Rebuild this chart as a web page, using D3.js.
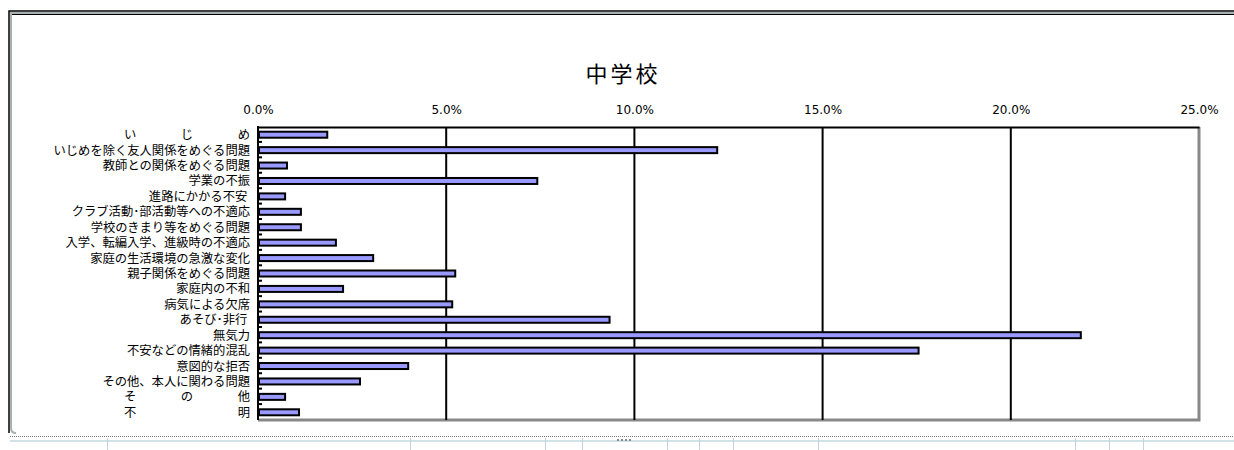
<!DOCTYPE html>
<html>
<head>
<meta charset="utf-8">
<script src="https://cdn.jsdelivr.net/npm/d3@7"></script>
<style>
  body { margin: 0; background: #fff; }
  svg { display: block; }
  text { font-family: "Noto Sans CJK JP", sans-serif; fill: #000; }
</style>
</head>
<body>
<svg class="main" width="1234" height="450"></svg>
<script>
var title = "中学校";

var categories = [
    "いじめ",
    "いじめを除く友人関係をめぐる問題",
    "教師との関係をめぐる問題",
    "学業の不振",
    "進路にかかる不安",
    "クラブ活動･部活動等への不適応",
    "学校のきまり等をめぐる問題",
    "入学、転編入学、進級時の不適応",
    "家庭の生活環境の急激な変化",
    "親子関係をめぐる問題",
    "家庭内の不和",
    "病気による欠席",
    "あそび･非行",
    "無気力",
    "不安などの情緒的混乱",
    "意図的な拒否",
    "その他、本人に関わる問題",
    "その他",
    "不明"
];

// label text as printed (spaced / padded)
var displayLabels = [
    "い　じ　め",
    "いじめを除く友人関係をめぐる問題",
    "教師との関係をめぐる問題",
    "学業の不振",
    "進路にかかる不安 ",
    "クラブ活動･部活動等への不適応",
    "学校のきまり等をめぐる問題",
    "入学、転編入学、進級時の不適応",
    "家庭の生活環境の急激な変化",
    "親子関係をめぐる問題",
    "家庭内の不和",
    "病気による欠席",
    "あそび･非行 ",
    "無気力",
    "不安などの情緒的混乱",
    "意図的な拒否",
    "その他、本人に関わる問題",
    "そ　の　他",
    "不　明"
];
var spreadLabels = [0, 17, 18];

var values = [1.84, 12.2, 0.77, 7.42, 0.72, 1.14, 1.14, 2.07, 3.06, 5.24,
              2.26, 5.16, 9.34, 21.86, 17.55, 3.99, 2.71, 0.72, 1.09];

var tickValues = [0, 5, 10, 15, 20, 25];

var svg = d3.select(".main");

var plotL = 258, plotR = 1199, plotT = 127, plotB = 420;

var x = d3.scaleLinear().domain([0, 25]).range([plotL, plotR]);
var y = d3.scaleBand().domain(categories).range([plotT, plotB]).padding(0);

// ---- sheet decorations (frame of embedded chart + cells below) ----
var deco = svg.append("g");
deco.append("line").attr("x1", 10).attr("x2", 1234).attr("y1", 436.5).attr("y2", 436.5)
    .attr("stroke", "#777").attr("stroke-dasharray", "1,1");
deco.append("line").attr("x1", 10).attr("x2", 1234).attr("y1", 441).attr("y2", 441)
    .attr("stroke", "#cfe3e8").attr("stroke-width", 2);
[107, 410, 545, 582, 667, 699, 733, 818, 1075, 1109, 1143].forEach(function(cx) {
    deco.append("line").attr("x1", cx + 0.5).attr("x2", cx + 0.5).attr("y1", 438).attr("y2", 450)
        .attr("stroke", "#c8d0dc");
});
deco.selectAll(".dot").data([617, 621, 625, 629]).enter().append("rect")
    .attr("x", function(d) { return d; }).attr("y", 439).attr("width", 2).attr("height", 2)
    .attr("fill", "#888");

// chart area outer border
deco.append("path")
    .attr("d", "M1234,11 L9,11 L9,433")
    .attr("fill", "none").attr("stroke", "#000").attr("stroke-width", 1.5);
deco.append("path")
    .attr("d", "M1234,13 L11,13 L11,428 Q11,433 16,433")
    .attr("fill", "none").attr("stroke", "#a9b0b4").attr("stroke-width", 2);
deco.append("line").attr("x1", 12).attr("x2", 1234).attr("y1", 14.5).attr("y2", 14.5)
    .attr("stroke", "#000").attr("stroke-width", 1);

// ---- title ----
svg.append("text")
    .attr("x", 623).attr("y", 82)
    .attr("text-anchor", "middle")
    .style("font-size", "22px")
    .style("letter-spacing", "3px")
    .text(title);

// ---- plot frame (shadowed right/bottom) ----
svg.append("path")
    .attr("d", "M" + plotR + "," + plotT + " L" + plotR + "," + plotB + " L" + plotL + "," + plotB)
    .attr("fill", "none").attr("stroke", "#888").attr("stroke-width", 3);

// gridlines
svg.append("g")
    .selectAll("line").data(tickValues.slice(1, -1)).enter().append("line")
    .attr("x1", function(d) { return x(d); })
    .attr("x2", function(d) { return x(d); })
    .attr("y1", plotT).attr("y2", plotB)
    .attr("stroke", "#000").attr("stroke-width", 2);

// top axis
var xAxis = svg.append("g")
    .attr("transform", "translate(0," + plotT + ")")
    .call(d3.axisTop(x).tickValues(tickValues).tickSize(0).tickPadding(13)
        .tickFormat(function(d) { return d.toFixed(1) + "%"; }));
xAxis.select(".domain").attr("stroke", "#000").attr("stroke-width", 2);
xAxis.selectAll("text")
    .style("font-family", "'DejaVu Sans', sans-serif")
    .style("font-size", "12px");

// bars
svg.append("g")
    .selectAll("rect").data(values).enter().append("rect")
    .attr("x", plotL + 1)
    .attr("y", function(d, i) { return y(categories[i]) + y.bandwidth() / 2 - 3; })
    .attr("width", function(d) { return x(d) - plotL - 1; })
    .attr("height", 6)
    .attr("fill", "#9999ff")
    .attr("stroke", "#000")
    .attr("stroke-width", 2);

// left axis with inside ticks at band boundaries
var yAxis = svg.append("g")
    .attr("transform", "translate(" + plotL + ",0)");
yAxis.append("line")
    .attr("x1", 0).attr("x2", 0).attr("y1", plotT - 1).attr("y2", plotB)
    .attr("stroke", "#000").attr("stroke-width", 2);
yAxis.selectAll(".minor").data(categories.slice(1)).enter().append("line")
    .attr("x1", 0).attr("x2", 4)
    .attr("y1", function(d) { return y(d) - 0.5; })
    .attr("y2", function(d) { return y(d) - 0.5; })
    .attr("stroke", "#000").attr("stroke-width", 2);

// category labels
svg.append("g")
    .selectAll("text").data(categories).enter().append("text")
    .attr("x", 250)
    .attr("y", function(d) { return y(d) + y.bandwidth() / 2 + 4.5; })
    .attr("text-anchor", "end")
    .attr("xml:space", "preserve")
    .style("font-size", "12.3px")
    .style("white-space", "pre")
    .each(function(d, i) {
        var t = d3.select(this).text(displayLabels[i]);
        if (spreadLabels.indexOf(i) >= 0) {
            t.attr("textLength", 126).attr("lengthAdjust", "spacing");
        }
    });
</script>
</body>
</html>
